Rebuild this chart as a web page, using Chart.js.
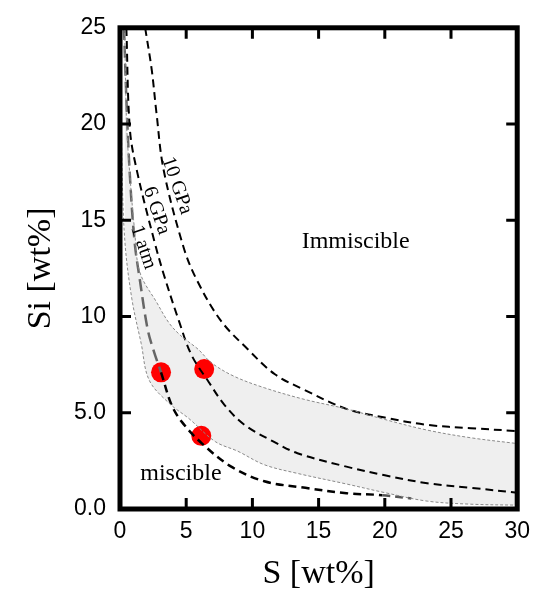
<!DOCTYPE html>
<html><head><meta charset="utf-8">
<script src="https://cdn.jsdelivr.net/npm/chart.js@4.4.1/dist/chart.umd.min.js"></script>
<style>html,body{margin:0;padding:0;background:#fff;}#wrap{width:539px;height:596px;}</style>
</head><body><div id="wrap"><canvas id="c" width="539" height="596"></canvas></div>
<script>
// ---- data ----
const xTickLabels = ['0','5','10','15','20','25','30'];
const yTickLabels = ['0.0','5.0','10','15','20','25'];

const gpa10S  = [1.9, 2.4, 2.75, 3.3, 4.8, 5.8, 7.6, 9.65, 11.7, 13.9, 17.1, 20, 23.2, 26.5, 30];
const gpa10Si = [25, 22.8, 20.6, 17.6, 13.6, 11.9, 9.8, 8.3, 7.0, 6.2, 5.2, 4.75, 4.37, 4.2, 4.05];

const gpa6S  = [0.48, 0.75, 1.3, 2.6, 3.3, 4.45, 5.4, 6.7, 7.9, 9.4, 11.6, 13.4, 17.1, 20, 23.2, 26.5, 30];
const gpa6Si = [25, 19.7, 17.5, 13.9, 12.2, 9.77, 8.0, 6.6, 5.4, 4.37, 3.5, 2.9, 2.2, 1.75, 1.34, 1.1, 0.85];

const atm1S  = [0.3, 0.5, 0.74, 1.1, 1.5, 2.1, 2.6, 3.1, 3.9, 4.7, 6.2, 8.4, 10.9, 14, 17.1, 19.8, 22];
const atm1Si = [25, 21, 17.4, 13.9, 11.9, 9.3, 8.1, 7.1, 5.4, 4.5, 3.4, 2.2, 1.44, 1.1, 0.82, 0.72, 0.55];

const bandUpperS  = [0.35, 0.5, 0.74, 1.1, 1.5, 2.8, 3.7, 4.6, 5.9, 6.9, 8.6, 10.9, 13.9, 17.1, 20, 23.2, 26.5, 30];
const bandUpperSi = [25, 20, 17.4, 14.5, 12.3, 10.7, 9.67, 9.0, 8.3, 7.6, 6.9, 6.3, 5.7, 5.2, 4.65, 4.1, 3.7, 3.4];

const bandLowerS  = [0.05, 0.15, 0.37, 0.9, 1.6, 2.2, 3.7, 5.2, 7.2, 8.9, 10.9, 13.4, 17.1, 20, 23.2, 26.5, 30];
const bandLowerSi = [25, 18, 13.9, 10.9, 8.6, 6.7, 5.5, 4.7, 3.5, 3.0, 2.3, 1.85, 1.3, 0.85, 0.41, 0.25, 0.2];

const sampleS  = [3.1, 6.36, 6.14];
const sampleSi = [7.1, 7.27, 3.8];

// ---- build ----
const toXY = (xs, ys) => xs.map((v, i) => ({x: v, y: ys[i]}));
const dash = {showLine: true, pointRadius: 0, borderWidth: 2, borderColor: '#000', borderDash: [8, 5], tension: 0.35, fill: false};

const annot = {
  id: 'annot',
  afterDatasetsDraw(chart) {
    const {ctx, chartArea: a, scales: {x, y}} = chart;
    ctx.save();
    ctx.fillStyle = '#000';
    ctx.textAlign = 'center';
    ctx.textBaseline = 'middle';
    ctx.font = '24px "Liberation Serif", "Times New Roman", serif';
    ctx.fillText('Immiscible', x.getPixelForValue(17.8), y.getPixelForValue(13.9));
    ctx.fillText('miscible', x.getPixelForValue(4.6), y.getPixelForValue(1.85));
    const rot = [['10 GPa', 4.3, 16.8], ['6 GPa', 2.75, 15.5], ['1 atm', 1.75, 13.6]];
    ctx.font = '20px "Liberation Serif", "Times New Roman", serif';
    rot.forEach(([t, sx, sy]) => {
      ctx.save();
      ctx.translate(x.getPixelForValue(sx), y.getPixelForValue(sy));
      ctx.rotate(71 * Math.PI / 180);
      ctx.fillText(t, 0, 0);
      ctx.restore();
    });
    // inward ticks
    ctx.strokeStyle = '#000';
    ctx.lineWidth = 3;
    ctx.beginPath();
    [5, 10, 15, 20, 25].forEach(v => {
      const px = x.getPixelForValue(v);
      ctx.moveTo(px, a.bottom); ctx.lineTo(px, a.bottom - 11);
      ctx.moveTo(px, a.top); ctx.lineTo(px, a.top + 11);
    });
    [5, 10, 15, 20].forEach(v => {
      const py = y.getPixelForValue(v);
      ctx.moveTo(a.left, py); ctx.lineTo(a.left + 11, py);
      ctx.moveTo(a.right, py); ctx.lineTo(a.right - 11, py);
    });
    ctx.stroke();
    // frame
    ctx.lineWidth = 5;
    ctx.strokeRect(a.left, a.top, a.right - a.left, a.bottom - a.top);
    ctx.restore();
  }
};

new Chart(document.getElementById('c'), {
  type: 'scatter',
  data: {
    datasets: [
      {label: 'band upper', data: toXY(bandUpperS, bandUpperSi), showLine: true, pointRadius: 0, borderWidth: 1,
       borderColor: '#8a8a8a', borderDash: [3, 2], tension: 0.35, fill: {target: '+1'}, backgroundColor: '#efefef'},
      {label: 'band lower', data: toXY(bandLowerS, bandLowerSi), showLine: true, pointRadius: 0, borderWidth: 1,
       borderColor: '#8a8a8a', borderDash: [3, 2], tension: 0.35, fill: false},
      Object.assign({label: '10 GPa', data: toXY(gpa10S, gpa10Si)}, dash),
      Object.assign({label: '6 GPa', data: toXY(gpa6S, gpa6Si)}, dash),
      Object.assign({label: '1 atm', data: toXY(atm1S, atm1Si)}, dash, {
        borderWidth: 2.5,
        segment: {
          borderColor: c => c.p0.parsed.y > 7.5 ? '#666' : (c.p0.parsed.x > 19 ? '#555' : '#000'),
          borderDash: c => c.p0.parsed.y > 7.5 ? [12, 6] : [8, 5]
        }
      }),
      {label: 'samples', data: toXY(sampleS, sampleSi), pointRadius: 10, pointHoverRadius: 10,
       backgroundColor: '#ff0000', borderColor: '#ff0000', borderWidth: 0, showLine: false}
    ]
  },
  options: {
    responsive: false,
    animation: false,
    events: [],
    layout: {autoPadding: false, padding: {left: 0, right: 16.5, top: 20.5, bottom: 0}},
    plugins: {
      legend: {display: false},
      tooltip: {enabled: false},
      filler: {drawTime: 'beforeDatasetsDraw'}
    },
    scales: {
      x: {
        type: 'linear', min: 0, max: 30,
        afterFit: s => { s.height = 87; },
        grid: {display: false, drawTicks: false},
        border: {display: false},
        ticks: {stepSize: 5, padding: 9, color: '#000', maxRotation: 0,
          font: {family: '"Liberation Sans", Arial, sans-serif', size: 23},
          callback: (v, i) => xTickLabels[i]},
        title: {display: true, text: 'S [wt%]', color: '#000', padding: {top: 0, bottom: 2},
          font: {family: '"Liberation Serif", "Times New Roman", serif', size: 34}}
      },
      y: {
        type: 'linear', min: 0, max: 25,
        afterFit: s => { s.width = 120; },
        grid: {display: false, drawTicks: false},
        border: {display: false},
        ticks: {stepSize: 5, padding: 14, color: '#000',
          font: {family: '"Liberation Sans", Arial, sans-serif', size: 23},
          callback: (v, i) => yTickLabels[i]},
        title: {display: true, text: 'Si [wt%]', color: '#000', padding: {top: 21, bottom: 0},
          font: {family: '"Liberation Serif", "Times New Roman", serif', size: 34}}
      }
    }
  },
  plugins: [annot]
});
</script>
</body></html>
